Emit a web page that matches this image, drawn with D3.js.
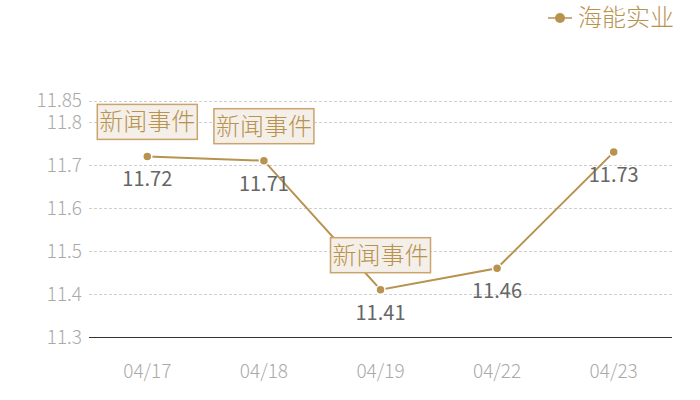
<!DOCTYPE html>
<html>
<head>
<meta charset="utf-8">
<script src="https://cdn.jsdelivr.net/npm/d3@7"></script>
<style>
	body { margin: 0; background: #fff; }
	svg text { font-family: "Noto Sans CJK SC", "Noto Sans", sans-serif; font-weight: 300; }
</style>
</head>
<body>
<div id="chart"></div>
<script>
	var dates = ['04/17', '04/18', '04/19', '04/22', '04/23'];
	var prices = [11.72, 11.71, 11.41, 11.46, 11.73];
	var yTicks = [11.3, 11.4, 11.5, 11.6, 11.7, 11.8, 11.85];
	var events = ['04/17', '04/18', '04/19'];
	var seriesName = '海能实业';
	var eventLabel = '新闻事件';

	var gold = '#b8924f';
	var width = 700, height = 400;
	var plotLeft = 89, plotRight = 672, plotTop = 100.5, plotBottom = 337;

	var svg = d3.select('#chart')
		.append('svg')
		.attr('width', width)
		.attr('height', height);

	var x = d3.scaleBand()
		.domain(dates)
		.range([plotLeft, plotRight]);

	var y = d3.scaleLinear()
		.domain([11.3, 11.85])
		.range([plotBottom, plotTop]);

	function cx(d) {
		return x(d) + x.bandwidth() / 2;
	}

	// grid
	svg.append('g')
		.selectAll('line')
		.data(yTicks.slice(1))
		.enter()
		.append('line')
		.attr('x1', plotLeft)
		.attr('x2', plotRight)
		.attr('y1', function (d) { return Math.round(y(d)) + 0.5; })
		.attr('y2', function (d) { return Math.round(y(d)) + 0.5; })
		.attr('stroke', '#cfcfcf')
		.style('stroke-dasharray', '3, 2');

	// y labels
	svg.append('g')
		.selectAll('text')
		.data(yTicks)
		.enter()
		.append('text')
		.attr('x', 82)
		.attr('y', function (d) { return y(d); })
		.attr('dy', '0.35em')
		.attr('text-anchor', 'end')
		.attr('fill', '#aaaaaa')
		.style('font-size', '19px')
		.text(function (d) { return d; });

	// x axis
	svg.append('line')
		.attr('x1', plotLeft)
		.attr('x2', plotRight)
		.attr('y1', Math.round(y(11.3)) + 0.5)
		.attr('y2', Math.round(y(11.3)) + 0.5)
		.attr('stroke', '#333333');

	svg.append('g')
		.selectAll('text')
		.data(dates)
		.enter()
		.append('text')
		.attr('x', cx)
		.attr('y', 378)
		.attr('text-anchor', 'middle')
		.attr('fill', '#aaaaaa')
		.style('font-size', '19px')
		.text(function (d) { return d; });

	// series line
	var line = d3.line()
		.x(function (d, i) { return cx(dates[i]); })
		.y(function (d) { return y(d); });

	svg.append('path')
		.datum(prices)
		.attr('d', line)
		.attr('fill', 'none')
		.attr('stroke', gold)
		.attr('stroke-width', 2);

	svg.append('g')
		.selectAll('circle')
		.data(prices)
		.enter()
		.append('circle')
		.attr('cx', function (d, i) { return cx(dates[i]); })
		.attr('cy', function (d) { return y(d); })
		.attr('r', 4.5)
		.attr('fill', gold)
		.attr('stroke', '#fff')
		.attr('stroke-width', 1.5);

	// value labels
	svg.append('g')
		.selectAll('text')
		.data(prices)
		.enter()
		.append('text')
		.attr('x', function (d, i) { return cx(dates[i]); })
		.attr('y', function (d) { return y(d) + 30; })
		.attr('text-anchor', 'middle')
		.attr('fill', '#666666')
		.style('font-size', '20px')
		.style('font-weight', 400)
		.text(function (d) { return d.toFixed(2); });

	// event boxes
	var ev = svg.append('g')
		.selectAll('g')
		.data(events)
		.enter()
		.append('g')
		.attr('transform', function (d) {
			var v = prices[dates.indexOf(d)];
			return 'translate(' + cx(d) + ',' + (y(v) - 17) + ')';
		});

	ev.append('rect')
		.attr('x', -50)
		.attr('y', -35)
		.attr('width', 100)
		.attr('height', 35)
		.attr('fill', '#f4efe9')
		.attr('stroke', '#c9a46c')
		.attr('stroke-width', 1.5);

	ev.append('text')
		.attr('x', 0)
		.attr('y', -9)
		.attr('text-anchor', 'middle')
		.attr('fill', gold)
		.style('font-size', '24px')
		.text(eventLabel);

	// legend
	var lg = svg.append('g')
		.attr('transform', 'translate(560,18)');

	lg.append('line')
		.attr('x1', -12)
		.attr('x2', 12)
		.attr('stroke', gold)
		.attr('stroke-width', 1.5);

	lg.append('circle')
		.attr('r', 5)
		.attr('fill', gold);

	lg.append('text')
		.attr('x', 18)
		.attr('dy', '0.35em')
		.attr('fill', gold)
		.style('font-size', '24px')
		.text(seriesName);
</script>
</body>
</html>
